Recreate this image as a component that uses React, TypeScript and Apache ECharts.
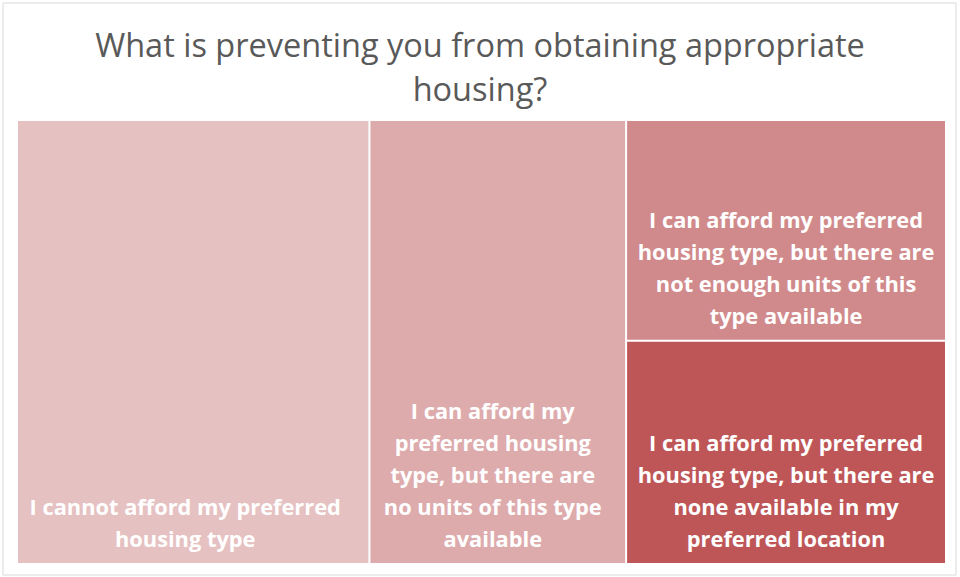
import React, { useEffect, useRef } from "react";
import * as echarts from "echarts";

const titleText = "What is preventing you from obtaining appropriate\nhousing?";

const categories = [
  "I cannot afford my preferred housing type",
  "I can afford my preferred housing type, but there are no units of this type available",
  "I can afford my preferred housing type, but there are not enough units of this type available",
  "I can afford my preferred housing type, but there are none available in my preferred location",
];

const values = [37.9, 27.6, 17.1, 17.3];

const labelLines = [
  ["I cannot afford my preferred", "housing type"],
  ["I can afford my", "preferred housing", "type, but there are", "no units of this type", "available"],
  ["I can afford my preferred", "housing type, but there are", "not enough units of this", "type available"],
  ["I can afford my preferred", "housing type, but there are", "none available in my", "preferred location"],
];

const colors = ["#E6C1C2", "#DEABAD", "#D18A8B", "#BE5657"];
const labelShiftX = [-8, -5, 0, 0];

export default function App() {
  const ref = useRef<HTMLDivElement>(null);

  useEffect(() => {
    if (!ref.current) return;
    const chart = echarts.init(ref.current, null, { renderer: "svg" });
    const labelMap: Record<string, string> = {};
    categories.forEach((c, i) => (labelMap[c] = labelLines[i].join("\n")));

    chart.setOption({
      animation: false,
      backgroundColor: "#ffffff",
      title: {
        text: titleText,
        left: "center",
        top: 17,
        textStyle: {
          fontFamily: "Open Sans",
          fontSize: 32.5,
          fontWeight: "normal",
          color: "#595959",
          lineHeight: 44,
        },
      },
      graphic: [
        {
          type: "rect",
          shape: { x: 3, y: 3, width: 953, height: 572 },
          style: { fill: "none", stroke: "#D9D9D9", lineWidth: 1 },
          silent: true,
          z: 100,
        },
      ],
      series: [
        {
          type: "treemap",
          left: 18,
          top: 121,
          width: 927,
          height: 442,
          sort: false,
          squareRatio: 1,
          roam: false,
          nodeClick: false,
          breadcrumb: { show: false },
          emphasis: { disabled: true },
          levels: [
            { itemStyle: { gapWidth: 2, borderWidth: 0, borderColor: "#ffffff" } },
            { itemStyle: { borderWidth: 0, gapWidth: 0 } },
          ],
          label: {
            show: true,
            position: "insideBottom",
            distance: 3,
            color: "#ffffff",
            fontFamily: "Open Sans",
            fontWeight: "bold",
            fontSize: 21.8,
            lineHeight: 32.2,
            align: "center",
            overflow: "none",
            formatter: (p: any) => labelMap[p.name] ?? p.name,
          },
          data: categories.map((c, i) => ({
            name: c,
            value: values[i],
            itemStyle: { color: colors[i] },
            label: { offset: [labelShiftX[i], 0] },
          })),
        },
      ],
    });

    return () => chart.dispose();
  }, []);

  return (
    <div
      ref={ref}
      style={{ position: "fixed", left: 0, top: 0, width: 960, height: 577 }}
    />
  );
}
